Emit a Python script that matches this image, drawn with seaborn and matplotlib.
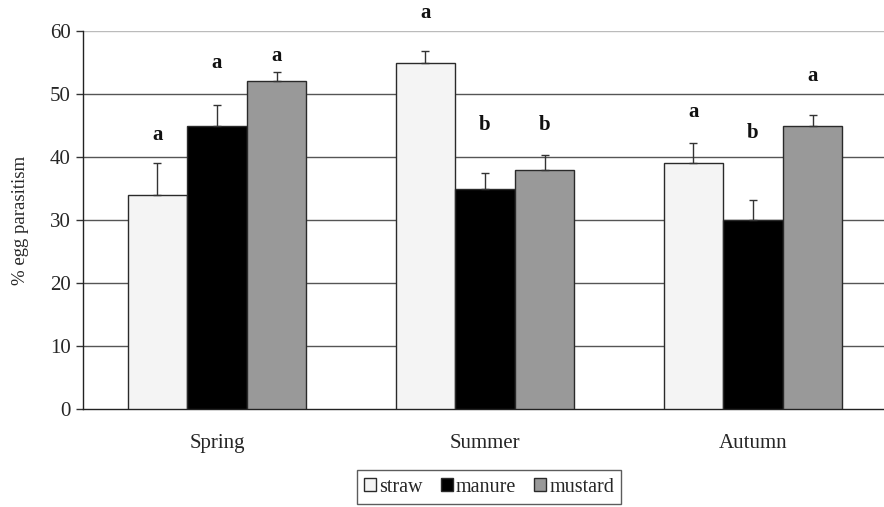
import matplotlib
matplotlib.use("Agg")
import matplotlib.pyplot as plt
import seaborn as sns
import pandas as pd
import numpy as np

seasons = ["Spring", "Summer", "Autumn"]
treatments = ["straw", "manure", "mustard"]

# mean % egg parasitism per season, one list per treatment
straw = [34.0, 55.0, 39.0]
manure = [45.0, 35.0, 30.0]
mustard = [52.0, 38.0, 45.0]

# standard errors (drawn upward only)
straw_se = [5.0, 1.8, 3.2]
manure_se = [3.2, 2.4, 3.2]
mustard_se = [1.5, 2.3, 1.6]

# significance letters and their heights
straw_letters = ["a", "a", "a"]
manure_letters = ["a", "b", "b"]
mustard_letters = ["a", "b", "a"]
straw_letter_y = [43.5, 62.9, 47.1]
manure_letter_y = [54.9, 45.1, 43.8]
mustard_letter_y = [56.0, 45.1, 52.9]

yticks = [0, 10, 20, 30, 40, 50, 60]

means = {"straw": straw, "manure": manure, "mustard": mustard}
ses = {"straw": straw_se, "manure": manure_se, "mustard": mustard_se}
letters = {"straw": straw_letters, "manure": manure_letters, "mustard": mustard_letters}
letter_y = {"straw": straw_letter_y, "manure": manure_letter_y, "mustard": mustard_letter_y}

rows = []
for t in treatments:
    for s, v in zip(seasons, means[t]):
        rows.append({"season": s, "treatment": t, "value": v})
df = pd.DataFrame(rows)

sns.set_style("white")
plt.rcParams["font.family"] = ["Liberation Serif", "DejaVu Serif"]

fig = plt.figure(figsize=(8.84, 5.07), dpi=100)
ax = fig.add_axes([83 / 884, 98 / 507, 804 / 884, 378 / 507])

palette = {"straw": "#f4f4f4", "manure": "#000000", "mustard": "#999999"}
sns.barplot(data=df, x="season", y="value", hue="treatment",
            order=seasons, hue_order=treatments, palette=palette,
            width=0.667, edgecolor="#2a2a2a", linewidth=1.0,
            saturation=1, errorbar=None, ax=ax, zorder=3)

# error bars and letters placed at the centres of the drawn bars
patches = [p for p in ax.patches if p.get_height() > 0]
for i, t in enumerate(treatments):
    for j in range(len(seasons)):
        p = patches[i * len(seasons) + j]
        xc = p.get_x() + p.get_width() / 2
        h = p.get_height()
        ax.errorbar(xc, h, yerr=[[0], [ses[t][j]]], fmt="none",
                    ecolor="#333333", elinewidth=1.0, capsize=3.2,
                    capthick=1.0, zorder=4)
        ax.text(xc, letter_y[t][j], letters[t][j], ha="center", va="center",
                fontsize=15, fontweight="bold", color="#111111", zorder=5)

ax.set_ylim(0, 60)
ax.set_xlim(-0.5, 2.5)
ax.set_yticks(yticks)
ax.set_yticklabels([str(v) for v in yticks], fontsize=15)

# horizontal grid lines behind the bars
ax.yaxis.grid(True, color="#555555", linewidth=1.0)
ax.set_axisbelow(True)
glines = ax.yaxis.get_gridlines()
glines[-1].set_color("#bbbbbb")
glines[0].set_visible(False)

ax.set_xticks(range(len(seasons)))
ax.set_xticklabels(seasons, fontsize=15)
ax.set_xticks([-0.5, 0.5, 1.5, 2.5], minor=True)
ax.tick_params(axis="x", which="major", length=0, pad=18)
ax.tick_params(axis="x", which="minor", length=5, width=1, color="#333333", direction="out")
ax.tick_params(axis="y", length=5, width=1, color="#333333", direction="out", pad=4, left=True)

for side in ["top", "right"]:
    ax.spines[side].set_visible(False)
for side in ["left", "bottom"]:
    ax.spines[side].set_color("#222222")
    ax.spines[side].set_linewidth(1.0)

ax.set_xlabel("")
ax.set_ylabel("% egg parasitism", fontsize=13.5, labelpad=15)

sns.move_legend(ax, "center", bbox_to_anchor=(489 / 884, 20 / 507),
                bbox_transform=fig.transFigure, ncol=3, title=None,
                frameon=True, fancybox=False, edgecolor="#333333",
                fontsize=14.5, handlelength=0.6, handleheight=0.6,
                handletextpad=0.15, columnspacing=0.9, borderpad=0.35)
leg = ax.get_legend()
leg.get_frame().set_linewidth(1.0)

fig.savefig("out.png", dpi=100)
